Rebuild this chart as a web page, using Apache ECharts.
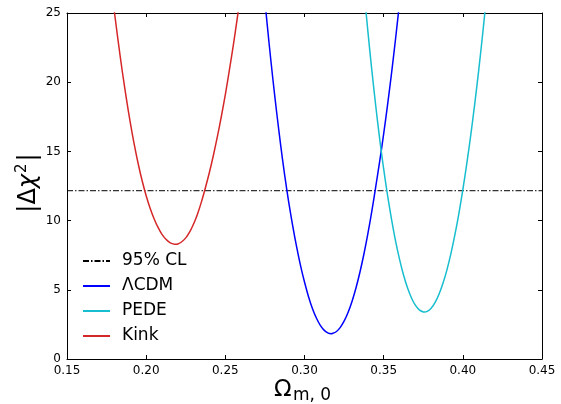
<!DOCTYPE html>
<html>
<head>
<meta charset="utf-8">
<script src="https://cdn.jsdelivr.net/npm/echarts@6/dist/echarts.min.js"></script>
<style>html,body{margin:0;padding:0;background:#fff;}#c{width:561px;height:404px;}</style>
</head>
<body>
<div id="c"></div>
<script>
// ---- data ----
const xTickLabels = ['0.15','0.20','0.25','0.30','0.35','0.40','0.45'];
const yTickLabels = ['0','5','10','15','20','25'];
const seriesNames = ['95% CL','\u039BCDM','PEDE','Kink'];
const clLevel = 12.16;
const clX = [0.15, 0.45];

const kinkX = [0.1775,0.18,0.1825,0.185,0.1875,0.19,0.1925,0.195,0.1975,0.2,0.2025,0.205,0.2075,0.21,0.2125,0.215,0.2175,0.2185,0.22,0.2225,0.225,0.2275,0.23,0.2325,0.235,0.2375,0.24,0.2425,0.245,0.2475,0.25,0.2525,0.255,0.2575,0.26];
const kinkY = [27.45,25.02,22.81,20.72,18.81,17.06,15.49,14.09,12.86,11.80,10.90,10.14,9.51,9.01,8.65,8.41,8.30,8.29,8.31,8.47,8.75,9.18,9.77,10.50,11.39,12.41,13.51,14.74,16.09,17.54,19.11,20.83,22.65,24.59,26.72];

const lcdmX = [0.275,0.2775,0.28,0.2825,0.285,0.2875,0.29,0.2925,0.295,0.2975,0.30,0.3025,0.305,0.3075,0.31,0.3125,0.315,0.3168,0.3175,0.32,0.3225,0.325,0.3275,0.33,0.3325,0.335,0.3375,0.34,0.3425,0.345,0.3475,0.35,0.3525,0.355,0.3575,0.36];
const lcdmY = [25.85,22.96,20.25,17.74,15.40,13.27,11.36,9.66,8.12,6.75,5.56,4.52,3.65,2.96,2.43,2.07,1.87,1.83,1.84,1.97,2.27,2.73,3.36,4.16,5.13,6.27,7.57,9.04,10.67,12.45,14.29,16.27,18.40,20.68,23.12,25.72];

const pedeX = [0.3375,0.34,0.3425,0.345,0.3475,0.35,0.3525,0.355,0.3575,0.36,0.3625,0.365,0.3675,0.37,0.3725,0.375,0.3757,0.3775,0.38,0.3825,0.385,0.3875,0.39,0.3925,0.395,0.3975,0.40,0.4025,0.405,0.4075,0.41,0.4125,0.415];
const pedeY = [26.74,23.71,20.89,18.28,15.89,13.73,11.79,10.07,8.54,7.22,6.09,5.16,4.43,3.89,3.55,3.40,3.39,3.44,3.67,4.09,4.70,5.49,6.46,7.63,8.98,10.51,12.23,14.11,16.17,18.42,20.84,23.45,26.25];

// ---- chart ----
const FONT = 'DejaVu Sans';
const zip = (xs, ys) => xs.map((x, i) => [x, ys[i]]);
const xMin = 0.15, xMax = 0.45, xStep = 0.05;
const yMin = 0, yMax = 25, yStep = 5;

function axisCommon(showLabel, labels, min, step) {
  return {
    type: 'value',
    splitLine: { show: false },
    axisLine: { show: true, onZero: false, lineStyle: { color: '#000', width: 1 } },
    axisTick: { show: true, inside: true, length: 4, lineStyle: { color: '#000', width: 1 } },
    axisLabel: {
      show: showLabel, color: '#000', fontSize: 12, fontFamily: FONT, margin: 6,
      formatter: v => labels[Math.round((v - min) / step)]
    }
  };
}

const chart = echarts.init(document.getElementById('c'), null, { renderer: 'canvas' });
const option = {
  animation: false,
  backgroundColor: '#fff',
  grid: { left: 67, right: 19, top: 13, bottom: 45 },
  xAxis: [
    Object.assign(axisCommon(true, xTickLabels, xMin, xStep), { min: xMin, max: xMax, interval: xStep, position: 'bottom' }),
    Object.assign(axisCommon(false, xTickLabels, xMin, xStep), { min: xMin, max: xMax, interval: xStep, position: 'top' })
  ],
  yAxis: [
    Object.assign(axisCommon(true, yTickLabels, yMin, yStep), { min: yMin, max: yMax, interval: yStep, position: 'left' }),
    Object.assign(axisCommon(false, yTickLabels, yMin, yStep), { min: yMin, max: yMax, interval: yStep, position: 'right' })
  ],
  legend: {
    orient: 'vertical', left: 82, top: 251, padding: 0,
    itemWidth: 27, itemHeight: 14, itemGap: 5,
    data: seriesNames,
    itemStyle: { color: 'rgba(0,0,0,0)', borderWidth: 0, borderColor: 'rgba(0,0,0,0)', opacity: 0 },
    textStyle: { color: '#000', fontSize: 17, fontFamily: FONT, lineHeight: 20, padding: [0, 0, 0, 7] }
  },
  graphic: [
    { type: 'text', x: 274, y: 390, style: { text: '\u03A9', fontSize: 23, fontFamily: FONT, fill: '#000', align: 'left', verticalAlign: 'middle' } },
    { type: 'text', x: 293, y: 396, style: { text: 'm, 0', fontSize: 17, fontFamily: FONT, fill: '#000', align: 'left', verticalAlign: 'middle' } },
    { type: 'text', x: 29, y: 183, rotation: Math.PI / 2,
      style: {
        text: '{a||\u0394}{i|\u03C7}{s|2}{a||}', fill: '#000', align: 'center', verticalAlign: 'middle',
        rich: {
          a: { fontSize: 24, fontFamily: FONT, lineHeight: 28, fill: '#000' },
          i: { fontSize: 24, fontFamily: FONT, fontStyle: 'italic', lineHeight: 28, fill: '#000' },
          s: { fontSize: 15, fontFamily: FONT, verticalAlign: 'top', lineHeight: 28, fill: '#000', padding: [0, 2, 0, 1] }
        }
      } }
  ],
  series: [
    { name: seriesNames[0], type: 'line', symbol: 'none', data: zip(clX, [clLevel, clLevel]),
      lineStyle: { color: '#000', width: 1, type: [6, 2, 1.5, 2] }, itemStyle: { color: '#000' } },
    { name: seriesNames[1], type: 'line', symbol: 'none', smooth: 0.3, data: zip(lcdmX, lcdmY),
      lineStyle: { color: '#0000ff', width: 1.5 }, itemStyle: { color: '#0000ff' } },
    { name: seriesNames[2], type: 'line', symbol: 'none', smooth: 0.3, data: zip(pedeX, pedeY),
      lineStyle: { color: '#17becf', width: 1.5 }, itemStyle: { color: '#17becf' } },
    { name: seriesNames[3], type: 'line', symbol: 'none', smooth: 0.3, data: zip(kinkX, kinkY),
      lineStyle: { color: '#d62728', width: 1.5 }, itemStyle: { color: '#d62728' } }
  ]
};
chart.setOption(option);
</script>
</body>
</html>
